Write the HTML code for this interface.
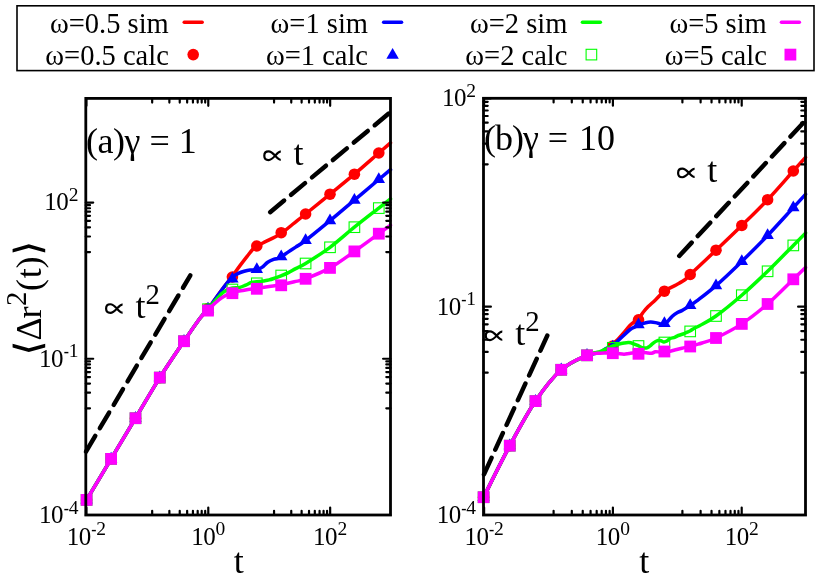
<!DOCTYPE html>
<html><head><meta charset="utf-8"><title>MSD plot</title>
<style>
html,body{margin:0;padding:0;background:#fff;}
body{width:830px;height:577px;overflow:hidden;font-family:"Liberation Serif",serif;}
svg{display:block;position:absolute;left:0;top:0;will-change:transform;}
text{font-family:"Liberation Serif",serif;fill:#000;}
</style></head><body>
<svg width="830" height="577" viewBox="0 0 830 577">
<rect x="0" y="0" width="830" height="577" fill="#ffffff"/>

<rect x="17.0" y="5.8" width="797.0" height="64.8" fill="#fff" stroke="#000" stroke-width="1.6"/>
<text x="168.8" y="33.0" font-size="28.5" text-anchor="end">ω=0.5 sim</text>
<text x="168.8" y="64.7" font-size="28.5" text-anchor="end">ω=0.5 calc</text>
<line x1="184.2" y1="22.3" x2="202.2" y2="22.3" stroke="#ff0000" stroke-width="3.4" stroke-linecap="round"/>
<circle cx="193.20" cy="54.60" r="5.8" fill="#ff0000"/>
<text x="368.0" y="33.0" font-size="28.5" text-anchor="end">ω=1 sim</text>
<text x="368.0" y="64.7" font-size="28.5" text-anchor="end">ω=1 calc</text>
<line x1="383.6" y1="22.3" x2="401.6" y2="22.3" stroke="#0000ff" stroke-width="3.4" stroke-linecap="round"/>
<path d="M392.60 48.00L386.36 58.80L398.84 58.80Z" fill="#0000ff"/>
<text x="567.4" y="33.0" font-size="28.5" text-anchor="end">ω=2 sim</text>
<text x="567.4" y="64.7" font-size="28.5" text-anchor="end">ω=2 calc</text>
<line x1="582.4" y1="22.3" x2="600.4" y2="22.3" stroke="#00ff00" stroke-width="3.4" stroke-linecap="round"/>
<rect x="586.10" y="49.30" width="10.60" height="10.60" fill="none" stroke="#00ff00" stroke-width="1.1"/>
<text x="766.8" y="33.0" font-size="28.5" text-anchor="end">ω=5 sim</text>
<text x="766.8" y="64.7" font-size="28.5" text-anchor="end">ω=5 calc</text>
<line x1="781.4" y1="22.3" x2="799.4" y2="22.3" stroke="#ff00ff" stroke-width="3.4" stroke-linecap="round"/>
<rect x="784.50" y="48.70" width="11.80" height="11.80" fill="#ff00ff"/>
<path d="M85.80 501.20C90.02 494.15 102.82 472.73 111.10 458.90C119.38 445.07 127.38 431.75 135.50 418.20C143.62 404.65 151.72 390.43 159.80 377.60C167.88 364.77 177.30 351.10 184.00 341.20C190.70 331.30 195.98 323.50 200.00 318.20C204.02 312.90 205.65 312.47 208.10 309.40C210.55 306.33 212.37 303.12 214.70 299.80C217.03 296.48 219.27 293.30 222.10 289.50C224.93 285.70 228.75 280.93 231.70 277.00C234.65 273.07 237.23 269.33 239.80 265.90C242.37 262.47 244.90 259.22 247.10 256.40C249.30 253.58 251.40 250.73 253.00 249.00C254.60 247.27 254.98 247.05 256.70 246.00C258.42 244.95 260.97 243.85 263.30 242.70C265.63 241.55 267.75 240.62 270.70 239.10C273.65 237.58 277.28 236.12 281.00 233.60C284.72 231.08 288.90 227.27 293.00 224.00C297.10 220.73 299.43 218.97 305.60 214.00C311.77 209.03 321.87 200.83 330.00 194.20C338.13 187.57 346.27 181.07 354.40 174.20C362.53 167.33 372.78 158.23 378.80 153.00C384.82 147.77 388.55 144.53 390.50 142.83" fill="none" stroke="#ff0000" stroke-width="3.5" stroke-linecap="round" stroke-linejoin="round"/>
<circle cx="86.60" cy="499.90" r="5.8" fill="#ff0000"/>
<circle cx="111.10" cy="458.90" r="5.8" fill="#ff0000"/>
<circle cx="135.50" cy="418.20" r="5.8" fill="#ff0000"/>
<circle cx="159.80" cy="377.60" r="5.8" fill="#ff0000"/>
<circle cx="184.00" cy="341.20" r="5.8" fill="#ff0000"/>
<circle cx="208.00" cy="308.60" r="5.8" fill="#ff0000"/>
<circle cx="232.40" cy="277.00" r="5.8" fill="#ff0000"/>
<circle cx="256.80" cy="246.00" r="5.8" fill="#ff0000"/>
<circle cx="281.20" cy="232.70" r="5.8" fill="#ff0000"/>
<circle cx="305.60" cy="214.00" r="5.8" fill="#ff0000"/>
<circle cx="330.00" cy="194.20" r="5.8" fill="#ff0000"/>
<circle cx="354.40" cy="174.20" r="5.8" fill="#ff0000"/>
<circle cx="378.80" cy="153.00" r="5.8" fill="#ff0000"/>
<path d="M85.80 501.20C90.02 494.15 102.82 472.73 111.10 458.90C119.38 445.07 127.38 431.75 135.50 418.20C143.62 404.65 151.72 390.43 159.80 377.60C167.88 364.77 177.30 351.10 184.00 341.20C190.70 331.30 195.98 323.50 200.00 318.20C204.02 312.90 205.65 312.47 208.10 309.40C210.55 306.33 212.37 303.12 214.70 299.80C217.03 296.48 219.88 292.48 222.10 289.50C224.32 286.52 226.28 283.98 228.00 281.90C229.72 279.82 230.68 278.42 232.40 277.00C234.12 275.58 236.33 274.37 238.30 273.40C240.27 272.43 242.23 271.77 244.20 271.20C246.17 270.63 248.02 270.22 250.10 270.00C252.18 269.78 254.73 270.33 256.70 269.90C258.67 269.47 260.07 268.68 261.90 267.40C263.73 266.12 265.75 263.55 267.70 262.20C269.65 260.85 271.87 259.95 273.60 259.30C275.33 258.65 276.87 258.72 278.10 258.30C279.33 257.88 279.28 257.87 281.00 256.80C282.72 255.73 285.95 253.52 288.40 251.90C290.85 250.28 292.83 249.00 295.70 247.10C298.57 245.20 299.88 244.90 305.60 240.50C311.32 236.10 321.87 227.43 330.00 220.70C338.13 213.97 346.27 206.97 354.40 200.10C362.53 193.23 372.78 184.58 378.80 179.50C384.82 174.42 388.55 171.27 390.50 169.62" fill="none" stroke="#0000ff" stroke-width="3.5" stroke-linecap="round" stroke-linejoin="round"/>
<path d="M86.60 492.70L80.36 503.50L92.84 503.50Z" fill="#0000ff"/>
<path d="M111.10 451.70L104.86 462.50L117.34 462.50Z" fill="#0000ff"/>
<path d="M135.50 411.00L129.26 421.80L141.74 421.80Z" fill="#0000ff"/>
<path d="M159.80 370.40L153.56 381.20L166.04 381.20Z" fill="#0000ff"/>
<path d="M184.00 334.00L177.76 344.80L190.24 344.80Z" fill="#0000ff"/>
<path d="M208.00 301.80L201.76 312.60L214.24 312.60Z" fill="#0000ff"/>
<path d="M232.40 271.80L226.16 282.60L238.64 282.60Z" fill="#0000ff"/>
<path d="M256.80 262.30L250.56 273.10L263.04 273.10Z" fill="#0000ff"/>
<path d="M281.20 249.50L274.96 260.30L287.44 260.30Z" fill="#0000ff"/>
<path d="M305.60 233.30L299.36 244.10L311.84 244.10Z" fill="#0000ff"/>
<path d="M330.00 213.50L323.76 224.30L336.24 224.30Z" fill="#0000ff"/>
<path d="M354.40 192.90L348.16 203.70L360.64 203.70Z" fill="#0000ff"/>
<path d="M378.80 172.30L372.56 183.10L385.04 183.10Z" fill="#0000ff"/>
<path d="M85.80 501.20C90.02 494.15 102.82 472.73 111.10 458.90C119.38 445.07 127.38 431.75 135.50 418.20C143.62 404.65 151.72 390.43 159.80 377.60C167.88 364.77 177.30 351.10 184.00 341.20C190.70 331.30 195.98 323.47 200.00 318.20C204.02 312.93 205.65 312.42 208.10 309.60C210.55 306.78 212.37 304.03 214.70 301.30C217.03 298.57 220.02 295.12 222.10 293.20C224.18 291.28 225.48 290.68 227.20 289.80C228.92 288.92 230.30 288.30 232.40 287.90C234.50 287.50 237.58 287.87 239.80 287.40C242.02 286.93 243.75 285.93 245.70 285.10C247.65 284.27 249.67 282.95 251.50 282.40C253.33 281.85 254.73 282.05 256.70 281.80C258.67 281.55 261.22 281.22 263.30 280.90C265.38 280.58 267.23 280.38 269.20 279.90C271.17 279.42 273.13 278.67 275.10 278.00C277.07 277.33 278.78 276.80 281.00 275.90C283.22 275.00 285.95 273.82 288.40 272.60C290.85 271.38 292.83 270.12 295.70 268.60C298.57 267.08 299.88 267.05 305.60 263.50C311.32 259.95 321.87 253.35 330.00 247.30C338.13 241.25 346.27 233.73 354.40 227.20C362.53 220.67 372.78 212.81 378.80 208.10C384.82 203.39 388.55 200.47 390.50 198.94" fill="none" stroke="#00ff00" stroke-width="3.5" stroke-linecap="round" stroke-linejoin="round"/>
<rect x="81.30" y="494.60" width="10.60" height="10.60" fill="none" stroke="#00ff00" stroke-width="1.1"/>
<rect x="105.80" y="453.60" width="10.60" height="10.60" fill="none" stroke="#00ff00" stroke-width="1.1"/>
<rect x="130.20" y="412.90" width="10.60" height="10.60" fill="none" stroke="#00ff00" stroke-width="1.1"/>
<rect x="154.50" y="372.30" width="10.60" height="10.60" fill="none" stroke="#00ff00" stroke-width="1.1"/>
<rect x="178.70" y="335.90" width="10.60" height="10.60" fill="none" stroke="#00ff00" stroke-width="1.1"/>
<rect x="202.70" y="303.90" width="10.60" height="10.60" fill="none" stroke="#00ff00" stroke-width="1.1"/>
<rect x="227.10" y="284.20" width="10.60" height="10.60" fill="none" stroke="#00ff00" stroke-width="1.1"/>
<rect x="251.50" y="278.00" width="10.60" height="10.60" fill="none" stroke="#00ff00" stroke-width="1.1"/>
<rect x="275.90" y="270.20" width="10.60" height="10.60" fill="none" stroke="#00ff00" stroke-width="1.1"/>
<rect x="300.30" y="258.20" width="10.60" height="10.60" fill="none" stroke="#00ff00" stroke-width="1.1"/>
<rect x="324.70" y="242.00" width="10.60" height="10.60" fill="none" stroke="#00ff00" stroke-width="1.1"/>
<rect x="349.10" y="221.90" width="10.60" height="10.60" fill="none" stroke="#00ff00" stroke-width="1.1"/>
<rect x="373.50" y="202.80" width="10.60" height="10.60" fill="none" stroke="#00ff00" stroke-width="1.1"/>
<path d="M85.80 501.20C90.02 494.15 102.82 472.73 111.10 458.90C119.38 445.07 127.38 431.75 135.50 418.20C143.62 404.65 151.72 390.43 159.80 377.60C167.88 364.77 177.30 351.10 184.00 341.20C190.70 331.30 195.98 323.38 200.00 318.20C204.02 313.02 205.65 312.55 208.10 310.10C210.55 307.65 212.37 305.58 214.70 303.50C217.03 301.42 219.15 299.45 222.10 297.60C225.05 295.75 228.72 293.63 232.40 292.40C236.08 291.17 240.15 290.88 244.20 290.20C248.25 289.52 252.53 288.92 256.70 288.30C260.87 287.68 265.15 287.08 269.20 286.50C273.25 285.92 276.82 285.58 281.00 284.80C285.18 284.02 290.20 282.80 294.30 281.80C298.40 280.80 299.65 281.12 305.60 278.80C311.55 276.48 321.87 272.47 330.00 267.90C338.13 263.33 346.27 257.10 354.40 251.40C362.53 245.70 372.78 238.06 378.80 233.70C384.82 229.34 388.55 226.63 390.50 225.21" fill="none" stroke="#ff00ff" stroke-width="3.5" stroke-linecap="round" stroke-linejoin="round"/>
<rect x="80.70" y="494.00" width="11.80" height="11.80" fill="#ff00ff"/>
<rect x="105.20" y="453.00" width="11.80" height="11.80" fill="#ff00ff"/>
<rect x="129.60" y="412.30" width="11.80" height="11.80" fill="#ff00ff"/>
<rect x="153.90" y="371.70" width="11.80" height="11.80" fill="#ff00ff"/>
<rect x="178.10" y="335.30" width="11.80" height="11.80" fill="#ff00ff"/>
<rect x="202.10" y="304.70" width="11.80" height="11.80" fill="#ff00ff"/>
<rect x="226.50" y="287.30" width="11.80" height="11.80" fill="#ff00ff"/>
<rect x="250.90" y="282.90" width="11.80" height="11.80" fill="#ff00ff"/>
<rect x="275.30" y="279.40" width="11.80" height="11.80" fill="#ff00ff"/>
<rect x="299.70" y="272.90" width="11.80" height="11.80" fill="#ff00ff"/>
<rect x="324.10" y="262.00" width="11.80" height="11.80" fill="#ff00ff"/>
<rect x="348.50" y="245.50" width="11.80" height="11.80" fill="#ff00ff"/>
<rect x="372.90" y="227.80" width="11.80" height="11.80" fill="#ff00ff"/>
<line x1="86.00" y1="451.60" x2="190.35" y2="275.34" stroke="#000" stroke-width="4.5" stroke-dasharray="18.2 9.0" stroke-linecap="round"/>
<line x1="270.13" y1="212.16" x2="390.60" y2="112.00" stroke="#000" stroke-width="4.5" stroke-dasharray="18.2 9.0" stroke-linecap="round"/>
<rect x="85.8" y="98.4" width="304.7" height="416.6" fill="none" stroke="#000" stroke-width="2.8"/>
<path d="M86.40 515.0v-7.4M86.40 98.4v7.4M208.28 515.0v-7.4M208.28 98.4v7.4M330.16 515.0v-7.4M330.16 98.4v7.4M152.17 515.0v-4.2M152.17 98.4v4.2M169.38 515.0v-4.2M169.38 98.4v4.2M179.73 515.0v-4.2M179.73 98.4v4.2M187.15 515.0v-4.2M187.15 98.4v4.2M192.93 515.0v-4.2M192.93 98.4v4.2M197.68 515.0v-4.2M197.68 98.4v4.2M201.70 515.0v-4.2M201.70 98.4v4.2M205.20 515.0v-4.2M205.20 98.4v4.2M274.05 515.0v-4.2M274.05 98.4v4.2M291.26 515.0v-4.2M291.26 98.4v4.2M301.61 515.0v-4.2M301.61 98.4v4.2M309.03 515.0v-4.2M309.03 98.4v4.2M314.81 515.0v-4.2M314.81 98.4v4.2M319.56 515.0v-4.2M319.56 98.4v4.2M323.58 515.0v-4.2M323.58 98.4v4.2M327.08 515.0v-4.2M327.08 98.4v4.2M85.8 515.00h7.4M390.5 515.00h-7.4M85.8 358.77h7.4M390.5 358.77h-7.4M85.8 202.55h7.4M390.5 202.55h-7.4M85.8 408.29h4.2M390.5 408.29h-4.2M85.8 392.71h4.2M390.5 392.71h-4.2M85.8 383.58h4.2M390.5 383.58h-4.2M85.8 377.09h4.2M390.5 377.09h-4.2M85.8 372.05h4.2M390.5 372.05h-4.2M85.8 367.93h4.2M390.5 367.93h-4.2M85.8 364.45h4.2M390.5 364.45h-4.2M85.8 361.44h4.2M390.5 361.44h-4.2M85.8 252.06h4.2M390.5 252.06h-4.2M85.8 236.49h4.2M390.5 236.49h-4.2M85.8 227.35h4.2M390.5 227.35h-4.2M85.8 220.86h4.2M390.5 220.86h-4.2M85.8 215.83h4.2M390.5 215.83h-4.2M85.8 211.71h4.2M390.5 211.71h-4.2M85.8 208.23h4.2M390.5 208.23h-4.2M85.8 205.21h4.2M390.5 205.21h-4.2" stroke="#000" stroke-width="2.2" stroke-linecap="round" fill="none"/>
<text x="86.40" y="544.70" font-size="25" text-anchor="middle"><tspan letter-spacing="-0.5">10</tspan><tspan font-size="19.5" dy="-9.3" dx="0.6" textLength="5.2" lengthAdjust="spacingAndGlyphs">-</tspan><tspan font-size="19.5" dx="-0.2">2</tspan></text>
<text x="208.28" y="544.70" font-size="25" text-anchor="middle"><tspan letter-spacing="-0.5">10</tspan><tspan font-size="19.5" dy="-9.3" dx="0.4">0</tspan></text>
<text x="330.16" y="544.70" font-size="25" text-anchor="middle"><tspan letter-spacing="-0.5">10</tspan><tspan font-size="19.5" dy="-9.3" dx="0.4">2</tspan></text>
<text x="78.40" y="522.90" font-size="25" text-anchor="end"><tspan letter-spacing="-0.5">10</tspan><tspan font-size="19.5" dy="-9.3" dx="0.6" textLength="5.2" lengthAdjust="spacingAndGlyphs">-</tspan><tspan font-size="19.5" dx="-0.2">4</tspan></text>
<text x="78.40" y="366.67" font-size="25" text-anchor="end"><tspan letter-spacing="-0.5">10</tspan><tspan font-size="19.5" dy="-9.3" dx="0.6" textLength="5.2" lengthAdjust="spacingAndGlyphs">-</tspan><tspan font-size="19.5" dx="-0.2">1</tspan></text>
<text x="78.40" y="210.45" font-size="25" text-anchor="end"><tspan letter-spacing="-0.5">10</tspan><tspan font-size="19.5" dy="-9.3" dx="0.4">2</tspan></text>
<text x="238.70" y="573.3" font-size="36" text-anchor="middle">t</text>
<text x="86.0" y="152.8" font-size="36"><tspan letter-spacing="-0.5">(a)</tspan>γ = 1</text>
<path d="M280.80 151.65 C276.80 151.25 273.80 160.05 268.50 160.05 C265.80 160.05 264.30 158.10 264.30 155.70 C264.30 153.30 265.80 151.35 268.50 151.35 C273.80 151.35 276.80 160.15 280.80 159.75" fill="none" stroke="#000" stroke-width="2.2" stroke-linecap="butt"/>
<text x="293.6" y="165.0" font-size="36">t</text>
<path d="M122.60 304.55 C118.60 304.15 115.60 312.95 110.30 312.95 C107.60 312.95 106.10 311.00 106.10 308.60 C106.10 306.20 107.60 304.25 110.30 304.25 C115.60 304.25 118.60 313.05 122.60 312.65" fill="none" stroke="#000" stroke-width="2.2" stroke-linecap="butt"/>
<text x="135.4" y="317.9" font-size="36">t<tspan font-size="28.8" dy="-14">2</tspan></text>
<path d="M483.60 497.20C487.97 488.62 501.15 461.72 509.80 445.70C518.45 429.68 526.93 413.75 535.50 401.10C544.07 388.45 552.62 377.43 561.20 369.80C569.78 362.17 580.53 358.17 587.00 355.30C593.47 352.43 596.83 353.52 600.00 352.60C603.17 351.68 603.85 351.23 606.00 349.80C608.15 348.37 610.88 345.77 612.90 344.00C614.92 342.23 616.23 341.12 618.10 339.20C619.97 337.28 622.10 334.82 624.10 332.50C626.10 330.18 627.73 327.60 630.10 325.30C632.47 323.00 636.08 320.92 638.30 318.70C640.52 316.48 641.75 314.02 643.40 312.00C645.05 309.98 646.20 308.60 648.20 306.60C650.20 304.60 652.70 302.57 655.40 300.00C658.10 297.43 660.88 293.75 664.40 291.20C667.92 288.65 673.03 286.65 676.50 284.70C679.97 282.75 682.92 281.20 685.20 279.50C687.48 277.80 685.07 279.38 690.20 274.50C695.33 269.62 707.40 258.37 716.00 250.20C724.60 242.03 733.20 233.92 741.80 225.50C750.40 217.08 759.02 208.78 767.60 199.70C776.18 190.62 786.98 178.05 793.30 171.00C799.62 163.95 803.47 159.65 805.50 157.38" fill="none" stroke="#ff0000" stroke-width="3.5" stroke-linecap="round" stroke-linejoin="round"/>
<circle cx="483.60" cy="497.20" r="5.8" fill="#ff0000"/>
<circle cx="509.80" cy="445.70" r="5.8" fill="#ff0000"/>
<circle cx="535.50" cy="401.10" r="5.8" fill="#ff0000"/>
<circle cx="561.20" cy="369.80" r="5.8" fill="#ff0000"/>
<circle cx="587.00" cy="355.30" r="5.8" fill="#ff0000"/>
<circle cx="612.80" cy="346.00" r="5.8" fill="#ff0000"/>
<circle cx="638.50" cy="319.90" r="5.8" fill="#ff0000"/>
<circle cx="664.40" cy="291.20" r="5.8" fill="#ff0000"/>
<circle cx="690.20" cy="274.50" r="5.8" fill="#ff0000"/>
<circle cx="716.00" cy="250.20" r="5.8" fill="#ff0000"/>
<circle cx="741.80" cy="225.50" r="5.8" fill="#ff0000"/>
<circle cx="767.60" cy="199.70" r="5.8" fill="#ff0000"/>
<circle cx="793.30" cy="171.00" r="5.8" fill="#ff0000"/>
<path d="M483.60 497.20C487.97 488.62 501.15 461.72 509.80 445.70C518.45 429.68 526.93 413.75 535.50 401.10C544.07 388.45 552.62 377.43 561.20 369.80C569.78 362.17 580.53 358.17 587.00 355.30C593.47 352.43 597.03 353.60 600.00 352.60C602.97 351.60 602.65 350.53 604.80 349.30C606.95 348.07 610.08 347.20 612.90 345.20C615.72 343.20 618.83 339.92 621.70 337.30C624.57 334.68 627.70 331.32 630.10 329.50C632.50 327.68 634.28 327.28 636.10 326.40C637.92 325.52 639.38 324.82 641.00 324.20C642.62 323.58 644.20 323.05 645.80 322.70C647.40 322.35 649.00 322.12 650.60 322.10C652.20 322.08 653.80 322.30 655.40 322.60C657.00 322.90 658.68 323.48 660.20 323.90C661.72 324.32 663.28 325.47 664.50 325.10C665.72 324.73 666.20 323.17 667.50 321.70C668.80 320.23 670.70 317.80 672.30 316.30C673.90 314.80 675.50 313.65 677.10 312.70C678.70 311.75 680.30 311.42 681.90 310.60C683.50 309.78 685.28 308.67 686.70 307.80C688.12 306.93 688.78 306.50 690.40 305.40C692.02 304.30 692.13 304.50 696.40 301.20C700.67 297.90 708.43 292.23 716.00 285.60C723.57 278.97 733.20 269.75 741.80 261.40C750.40 253.05 759.02 244.47 767.60 235.50C776.18 226.53 786.98 214.46 793.30 207.60C799.62 200.74 803.47 196.56 805.50 194.36" fill="none" stroke="#0000ff" stroke-width="3.5" stroke-linecap="round" stroke-linejoin="round"/>
<path d="M483.60 490.00L477.36 500.80L489.84 500.80Z" fill="#0000ff"/>
<path d="M509.80 438.50L503.56 449.30L516.04 449.30Z" fill="#0000ff"/>
<path d="M535.50 393.90L529.26 404.70L541.74 404.70Z" fill="#0000ff"/>
<path d="M561.20 362.60L554.96 373.40L567.44 373.40Z" fill="#0000ff"/>
<path d="M587.00 348.10L580.76 358.90L593.24 358.90Z" fill="#0000ff"/>
<path d="M612.80 339.80L606.56 350.60L619.04 350.60Z" fill="#0000ff"/>
<path d="M638.50 317.40L632.26 328.20L644.74 328.20Z" fill="#0000ff"/>
<path d="M664.40 316.20L658.16 327.00L670.64 327.00Z" fill="#0000ff"/>
<path d="M690.20 298.30L683.96 309.10L696.44 309.10Z" fill="#0000ff"/>
<path d="M716.00 278.40L709.76 289.20L722.24 289.20Z" fill="#0000ff"/>
<path d="M741.80 254.20L735.56 265.00L748.04 265.00Z" fill="#0000ff"/>
<path d="M767.60 228.30L761.36 239.10L773.84 239.10Z" fill="#0000ff"/>
<path d="M793.30 200.40L787.06 211.20L799.54 211.20Z" fill="#0000ff"/>
<path d="M483.60 497.20C487.97 488.62 501.15 461.72 509.80 445.70C518.45 429.68 526.93 413.75 535.50 401.10C544.07 388.45 552.62 377.43 561.20 369.80C569.78 362.17 580.53 358.33 587.00 355.30C593.47 352.27 596.63 352.75 600.00 351.60C603.37 350.45 605.05 349.33 607.20 348.40C609.35 347.47 611.08 346.68 612.90 346.00C614.72 345.32 616.23 344.80 618.10 344.30C619.97 343.80 622.30 343.28 624.10 343.00C625.90 342.72 627.30 342.47 628.90 342.60C630.50 342.73 632.08 343.27 633.70 343.80C635.32 344.33 637.18 345.17 638.60 345.80C640.02 346.43 640.90 347.23 642.20 347.60C643.50 347.97 645.20 348.20 646.40 348.00C647.60 347.80 648.30 347.17 649.40 346.40C650.50 345.63 651.80 344.30 653.00 343.40C654.20 342.50 655.40 341.50 656.60 341.00C657.80 340.50 658.98 340.25 660.20 340.40C661.42 340.55 662.78 341.80 663.90 341.90C665.02 342.00 665.90 341.55 666.90 341.00C667.90 340.45 668.60 339.22 669.90 338.60C671.20 337.98 673.30 337.82 674.70 337.30C676.10 336.78 676.90 336.05 678.30 335.50C679.70 334.95 681.70 334.53 683.10 334.00C684.50 333.47 685.48 332.85 686.70 332.30C687.92 331.75 688.98 331.47 690.40 330.70C691.82 329.93 693.60 328.57 695.20 327.70C696.80 326.83 696.53 327.45 700.00 325.50C703.47 323.55 709.03 321.05 716.00 316.00C722.97 310.95 733.20 302.65 741.80 295.20C750.40 287.75 759.02 279.60 767.60 271.30C776.18 263.00 786.98 251.77 793.30 245.40C799.62 239.03 803.47 235.15 805.50 233.11" fill="none" stroke="#00ff00" stroke-width="3.5" stroke-linecap="round" stroke-linejoin="round"/>
<rect x="478.30" y="491.90" width="10.60" height="10.60" fill="none" stroke="#00ff00" stroke-width="1.1"/>
<rect x="504.50" y="440.40" width="10.60" height="10.60" fill="none" stroke="#00ff00" stroke-width="1.1"/>
<rect x="530.20" y="395.80" width="10.60" height="10.60" fill="none" stroke="#00ff00" stroke-width="1.1"/>
<rect x="555.90" y="364.50" width="10.60" height="10.60" fill="none" stroke="#00ff00" stroke-width="1.1"/>
<rect x="581.70" y="350.00" width="10.60" height="10.60" fill="none" stroke="#00ff00" stroke-width="1.1"/>
<rect x="607.50" y="342.50" width="10.60" height="10.60" fill="none" stroke="#00ff00" stroke-width="1.1"/>
<rect x="633.20" y="340.70" width="10.60" height="10.60" fill="none" stroke="#00ff00" stroke-width="1.1"/>
<rect x="659.10" y="337.20" width="10.60" height="10.60" fill="none" stroke="#00ff00" stroke-width="1.1"/>
<rect x="684.90" y="326.10" width="10.60" height="10.60" fill="none" stroke="#00ff00" stroke-width="1.1"/>
<rect x="710.70" y="310.70" width="10.60" height="10.60" fill="none" stroke="#00ff00" stroke-width="1.1"/>
<rect x="736.50" y="289.90" width="10.60" height="10.60" fill="none" stroke="#00ff00" stroke-width="1.1"/>
<rect x="762.30" y="266.00" width="10.60" height="10.60" fill="none" stroke="#00ff00" stroke-width="1.1"/>
<rect x="788.00" y="240.10" width="10.60" height="10.60" fill="none" stroke="#00ff00" stroke-width="1.1"/>
<path d="M483.60 497.20C487.97 488.62 501.15 461.72 509.80 445.70C518.45 429.68 526.93 413.75 535.50 401.10C544.07 388.45 552.62 377.43 561.20 369.80C569.78 362.17 580.53 358.07 587.00 355.30C593.47 352.53 596.63 353.58 600.00 353.20C603.37 352.82 605.05 353.03 607.20 353.00C609.35 352.97 611.08 352.90 612.90 353.00C614.72 353.10 616.23 353.40 618.10 353.60C619.97 353.80 622.30 354.23 624.10 354.20C625.90 354.17 627.30 353.65 628.90 353.40C630.50 353.15 632.13 352.77 633.70 352.70C635.27 352.63 636.68 353.05 638.30 353.00C639.92 352.95 641.75 352.40 643.40 352.40C645.05 352.40 646.80 352.85 648.20 353.00C649.60 353.15 650.60 353.50 651.80 353.30C653.00 353.10 654.00 352.02 655.40 351.80C656.80 351.58 658.68 352.10 660.20 352.00C661.72 351.90 662.88 351.33 664.50 351.20C666.12 351.07 668.20 351.40 669.90 351.20C671.60 351.00 672.70 350.50 674.70 350.00C676.70 349.50 679.28 348.80 681.90 348.20C684.52 347.60 687.98 347.00 690.40 346.40C692.82 345.80 694.47 345.17 696.40 344.60C698.33 344.03 698.73 344.10 702.00 343.00C705.27 341.90 709.37 341.18 716.00 338.00C722.63 334.82 733.20 329.57 741.80 323.90C750.40 318.23 759.02 311.43 767.60 304.00C776.18 296.57 786.98 285.37 793.30 279.30C799.62 273.23 803.47 269.53 805.50 267.57" fill="none" stroke="#ff00ff" stroke-width="3.5" stroke-linecap="round" stroke-linejoin="round"/>
<rect x="477.70" y="491.30" width="11.80" height="11.80" fill="#ff00ff"/>
<rect x="503.90" y="439.80" width="11.80" height="11.80" fill="#ff00ff"/>
<rect x="529.60" y="395.20" width="11.80" height="11.80" fill="#ff00ff"/>
<rect x="555.30" y="363.90" width="11.80" height="11.80" fill="#ff00ff"/>
<rect x="581.10" y="349.40" width="11.80" height="11.80" fill="#ff00ff"/>
<rect x="606.90" y="347.30" width="11.80" height="11.80" fill="#ff00ff"/>
<rect x="632.60" y="347.90" width="11.80" height="11.80" fill="#ff00ff"/>
<rect x="658.50" y="345.60" width="11.80" height="11.80" fill="#ff00ff"/>
<rect x="684.30" y="340.60" width="11.80" height="11.80" fill="#ff00ff"/>
<rect x="710.10" y="332.10" width="11.80" height="11.80" fill="#ff00ff"/>
<rect x="735.90" y="318.00" width="11.80" height="11.80" fill="#ff00ff"/>
<rect x="761.70" y="298.10" width="11.80" height="11.80" fill="#ff00ff"/>
<rect x="787.40" y="273.40" width="11.80" height="11.80" fill="#ff00ff"/>
<line x1="484.00" y1="474.40" x2="547.27" y2="335.65" stroke="#000" stroke-width="4.5" stroke-dasharray="18.2 9.0" stroke-linecap="round"/>
<line x1="679.23" y1="255.95" x2="806.20" y2="119.70" stroke="#000" stroke-width="4.5" stroke-dasharray="18.2 9.0" stroke-linecap="round"/>
<rect x="483.5" y="98.3" width="322.0" height="416.7" fill="none" stroke="#000" stroke-width="2.8"/>
<path d="M484.10 515.0v-7.4M484.10 98.3v7.4M612.90 515.0v-7.4M612.90 98.3v7.4M741.70 515.0v-7.4M741.70 98.3v7.4M553.60 515.0v-4.2M553.60 98.3v4.2M571.80 515.0v-4.2M571.80 98.3v4.2M582.73 515.0v-4.2M582.73 98.3v4.2M590.57 515.0v-4.2M590.57 98.3v4.2M596.68 515.0v-4.2M596.68 98.3v4.2M601.70 515.0v-4.2M601.70 98.3v4.2M605.95 515.0v-4.2M605.95 98.3v4.2M609.64 515.0v-4.2M609.64 98.3v4.2M682.40 515.0v-4.2M682.40 98.3v4.2M700.60 515.0v-4.2M700.60 98.3v4.2M711.53 515.0v-4.2M711.53 98.3v4.2M719.37 515.0v-4.2M719.37 98.3v4.2M725.48 515.0v-4.2M725.48 98.3v4.2M730.50 515.0v-4.2M730.50 98.3v4.2M734.75 515.0v-4.2M734.75 98.3v4.2M738.44 515.0v-4.2M738.44 98.3v4.2M483.5 515.00h7.4M805.5 515.00h-7.4M483.5 306.65h7.4M805.5 306.65h-7.4M483.5 98.30h7.4M805.5 98.30h-7.4M483.5 372.68h4.2M805.5 372.68h-4.2M483.5 351.91h4.2M805.5 351.91h-4.2M483.5 339.73h4.2M805.5 339.73h-4.2M483.5 331.07h4.2M805.5 331.07h-4.2M483.5 324.35h4.2M805.5 324.35h-4.2M483.5 318.86h4.2M805.5 318.86h-4.2M483.5 314.22h4.2M805.5 314.22h-4.2M483.5 310.20h4.2M805.5 310.20h-4.2M483.5 164.33h4.2M805.5 164.33h-4.2M483.5 143.56h4.2M805.5 143.56h-4.2M483.5 131.38h4.2M805.5 131.38h-4.2M483.5 122.72h4.2M805.5 122.72h-4.2M483.5 116.00h4.2M805.5 116.00h-4.2M483.5 110.51h4.2M805.5 110.51h-4.2M483.5 105.87h4.2M805.5 105.87h-4.2M483.5 101.85h4.2M805.5 101.85h-4.2" stroke="#000" stroke-width="2.2" stroke-linecap="round" fill="none"/>
<text x="484.10" y="544.70" font-size="25" text-anchor="middle"><tspan letter-spacing="-0.5">10</tspan><tspan font-size="19.5" dy="-9.3" dx="0.6" textLength="5.2" lengthAdjust="spacingAndGlyphs">-</tspan><tspan font-size="19.5" dx="-0.2">2</tspan></text>
<text x="612.90" y="544.70" font-size="25" text-anchor="middle"><tspan letter-spacing="-0.5">10</tspan><tspan font-size="19.5" dy="-9.3" dx="0.4">0</tspan></text>
<text x="741.70" y="544.70" font-size="25" text-anchor="middle"><tspan letter-spacing="-0.5">10</tspan><tspan font-size="19.5" dy="-9.3" dx="0.4">2</tspan></text>
<text x="476.10" y="522.90" font-size="25" text-anchor="end"><tspan letter-spacing="-0.5">10</tspan><tspan font-size="19.5" dy="-9.3" dx="0.6" textLength="5.2" lengthAdjust="spacingAndGlyphs">-</tspan><tspan font-size="19.5" dx="-0.2">4</tspan></text>
<text x="476.10" y="314.55" font-size="25" text-anchor="end"><tspan letter-spacing="-0.5">10</tspan><tspan font-size="19.5" dy="-9.3" dx="0.6" textLength="5.2" lengthAdjust="spacingAndGlyphs">-</tspan><tspan font-size="19.5" dx="-0.2">1</tspan></text>
<text x="476.10" y="106.20" font-size="25" text-anchor="end"><tspan letter-spacing="-0.5">10</tspan><tspan font-size="19.5" dy="-9.3" dx="0.4">2</tspan></text>
<text x="644.30" y="573.3" font-size="36" text-anchor="middle">t</text>
<text x="483.9" y="150.0" font-size="36"><tspan letter-spacing="-1">(b)</tspan>γ = <tspan dx="2">10</tspan></text>
<path d="M694.60 168.85 C690.60 168.45 687.60 177.25 682.30 177.25 C679.60 177.25 678.10 175.30 678.10 172.90 C678.10 170.50 679.60 168.55 682.30 168.55 C687.60 168.55 690.60 177.35 694.60 176.95" fill="none" stroke="#000" stroke-width="2.2" stroke-linecap="butt"/>
<text x="707.2" y="182.2" font-size="36">t</text>
<path d="M502.30 331.65 C498.30 331.25 495.30 340.05 490.00 340.05 C487.30 340.05 485.80 338.10 485.80 335.70 C485.80 333.30 487.30 331.35 490.00 331.35 C495.30 331.35 498.30 340.15 502.30 339.75" fill="none" stroke="#000" stroke-width="2.2" stroke-linecap="butt"/>
<text x="515.2" y="345.0" font-size="36">t<tspan font-size="28.8" dy="-14">2</tspan></text>
<g transform="translate(40.8,0) rotate(-90)">
<text x="-340.60" y="0" font-size="36">Δ</text>
<text x="-318.60" y="0" font-size="36">r</text>
<text x="-306.00" y="-14.4" font-size="28.8">2</text>
<text x="-291.00" y="0" font-size="36">(</text>
<text x="-278.20" y="0" font-size="36">t</text>
<text x="-268.60" y="0" font-size="36">)</text>
</g>
<path d="M12.6 343.8L28.8 348.3L45.2 343.8L45.2 347.4L28.8 351.9L12.6 347.4Z" fill="#000"/>
<path d="M12.6 248.9L28.8 244.3L45.2 248.9L45.2 252.6L28.8 247.9L12.6 252.6Z" fill="#000"/>
</svg></body></html>
